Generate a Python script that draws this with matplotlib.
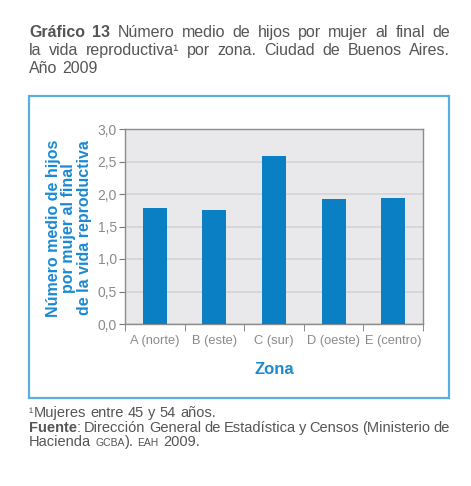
import matplotlib
matplotlib.use("Agg")
import matplotlib.pyplot as plt
from matplotlib.patches import Rectangle
import numpy as np

zonas = ["A (norte)", "B (este)", "C (sur)", "D (oeste)", "E (centro)"]
hijos = [1.78, 1.75, 2.58, 1.92, 1.94]
y_ticks = [0.0, 0.5, 1.0, 1.5, 2.0, 2.5, 3.0]
y_tick_labels = ["0,0", "0,5", "1,0", "1,5", "2,0", "2,5", "3,0"]

AZUL = "#0a7fc4"
AZUL_TXT = "#1b8ad3"
GRIS_TXT = "#555555"
GRIS_TICK = "#8a8a8a"
FUENTE = "Liberation Sans"

plt.rcParams["font.family"] = [FUENTE, "DejaVu Sans"]

fig = plt.figure(figsize=(4.71, 4.86), dpi=100)
W, H = 471, 486


def fx(px):
    return px / W


def fy(py):
    return 1 - py / H


def linea(y_px, partes, x0=29, x1=450, size=11, justificar=True):
    """Dibuja una linea de texto; partes = [(texto, opciones)].
    Si justificar, reparte las palabras entre x0 y x1."""
    renderer = fig.canvas.get_renderer()
    palabras = []  # (texto, opciones, espacio_antes)
    for texto, kw in partes:
        trozos = texto.split(" ")
        for i, w in enumerate(trozos):
            if w:
                pegado = kw.get("_pegado", False) and i == 0
                palabras.append((w, kw, not pegado))
    objs, anchos = [], []
    for w, kw, _ in palabras:
        opts = dict(fontsize=size, color=GRIS_TXT, va="baseline", ha="left")
        opts.update({k: v for k, v in kw.items() if not k.startswith("_")})
        t = fig.text(0, fy(y_px), w, **opts)
        objs.append(t)
        anchos.append(t.get_window_extent(renderer).width)
    espacio = fig.text(0, 0, "a a", fontsize=size).get_window_extent(renderer).width \
        - fig.text(0, 0, "aa", fontsize=size).get_window_extent(renderer).width
    for t in fig.texts[-2:]:
        t.set_visible(False)
    n_huecos = sum(1 for p in palabras[1:] if p[2])
    if justificar and n_huecos > 0:
        hueco = (x1 - x0 - sum(anchos)) / n_huecos
    else:
        hueco = espacio
    x = x0
    for i, (t, a) in enumerate(zip(objs, anchos)):
        if i > 0 and palabras[i][2]:
            x += hueco
        t.set_x(fx(x))
        x += a


# Titulo
linea(37, [("Gráfico 13", dict(fontweight="bold")),
           ("Número medio de hijos por mujer al final de", {})], size=11.5)
linea(55, [("la vida reproductiva¹ por zona. Ciudad de Buenos Aires.", {})], size=11.5)
linea(73, [("Año 2009", {})], size=11.5, justificar=False)

# Marco azul
fig.patches.append(Rectangle((fx(29), fy(398)), fx(420), 302 / H,
                             transform=fig.transFigure, fill=False,
                             edgecolor="#5aaee0", linewidth=1.6))

# Grafico de barras
ax = fig.add_axes([fx(125), fy(324), fx(298), (324 - 129) / H])
ax.set_facecolor("#e9e9eb")
x = np.arange(len(zonas))
ax.bar(x, hijos, width=0.4, color=AZUL, zorder=3)
ax.set_ylim(0, 3.0)
ax.set_xlim(-0.5, len(zonas) - 0.5)
ax.set_yticks(y_ticks)
ax.set_yticklabels(y_tick_labels, color=GRIS_TICK, fontsize=10)
ax.yaxis.grid(True, color="#d4d4d6", linewidth=1.2, zorder=0)
ax.set_xticks(x)
ax.set_xticklabels(zonas, color=GRIS_TICK, fontsize=9.3)
ax.tick_params(axis="x", length=0, pad=8)
ax.set_xticks(np.arange(-0.5, len(zonas), 1.0), minor=True)
ax.tick_params(axis="x", which="minor", length=5, color="#777777")
ax.tick_params(axis="y", length=4, color="#777777", pad=2)
for s in ax.spines.values():
    s.set_color("#8c8c8c")
    s.set_linewidth(1.0)

ax.set_xlabel("Zona", color=AZUL_TXT, fontsize=12, fontweight="bold", labelpad=11)
fig.text(fx(69), fy(228),
         "Número medio de hijos\npor mujer al final\nde la vida reproductiva",
         rotation=90, ha="center", va="center", color=AZUL_TXT,
         fontsize=11.5, fontweight="bold", linespacing=1.0)

# Notas
fig.text(fx(29), fy(417), "¹", fontsize=9, color=GRIS_TXT, va="baseline")
linea(417, [("Mujeres entre 45 y 54 años.", {})], x0=34, size=10.5, justificar=False)
linea(432, [("Fuente", dict(fontweight="bold")),
            (": Dirección General de Estadística y Censos (Ministerio de",
             dict(_pegado=True))], size=10.5)
linea(446, [("Hacienda", {}), ("GCBA", dict(fontsize=7.5)),
            (").", dict(_pegado=True)), ("EAH", dict(fontsize=7.5)),
            ("2009.", {})], size=10.5, justificar=False)

fig.savefig("out.png", dpi=100)
